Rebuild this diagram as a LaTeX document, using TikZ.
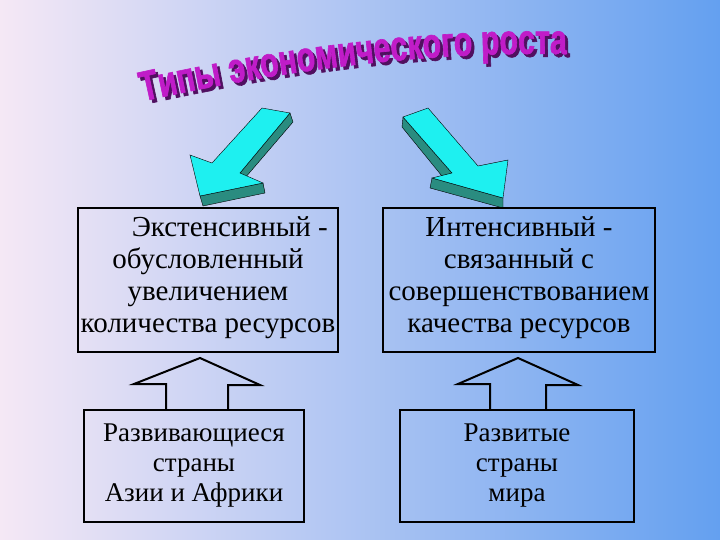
\documentclass[tikz,border=0pt]{standalone}
\usepackage{fontspec}
\setmainfont{Liberation Serif}
\newfontfamily\tfont[FakeStretch=0.72,FakeBold=1.5]{Liberation Sans Bold}
\usetikzlibrary{decorations.text}
\definecolor{cy}{HTML}{1EF0F0}
\definecolor{tl}{HTML}{2A8C80}
\definecolor{mag}{HTML}{C01CC8}
\definecolor{shd}{HTML}{501060}
\tikzset{bx/.style={draw=black,line width=2pt,align=center,inner sep=0pt},
 up/.style={draw=black,line width=2pt},
 cya/.style={fill=cy,draw=black,line width=0.4pt},
 drk/.style={fill=tl,draw=black,line width=0.4pt},
 tt/.style={font=\fontsize{29}{32}\selectfont,align=center},
 bt/.style={font=\fontsize{27}{30}\selectfont,align=center}}
\begin{document}
\begin{tikzpicture}[x=1pt,y=-1pt]
\shade[left color={rgb,255:red,245;green,232;blue,245},right color={rgb,255:red,100;green,160;blue,240}] (0,0) rectangle (720,540);
\useasboundingbox (0,0) rectangle (720,540);
% title
\path[decorate,decoration={text along path,text align=center,text={|\tfont\fontsize{42}{42}\selectfont\color{shd}|Типы экономического роста}}] (121,110) .. controls (300,68) and (460,52) .. (595,58);
\path[decorate,decoration={text along path,text align=center,text={|\tfont\fontsize{42}{42}\selectfont\color{mag}|Типы экономического роста}}] (118,107) .. controls (297,65) and (457,49) .. (592,55);
% left 3D arrow
\draw[drk] (290,113) -- (293,122) -- (245,178) -- (240,173) -- cycle;
\draw[drk] (200,196) -- (263,183) -- (265,193) -- (203,206) -- cycle;
\draw[cya] (262,108) -- (290,113) -- (240,173) -- (263,183) -- (200,196) -- (190,155) -- (212,163) -- cycle;
% right 3D arrow
\draw[drk] (403,117) -- (402,127) -- (446,181) -- (452,173) -- cycle;
\draw[drk] (432,178) -- (503,198) -- (503,208) -- (430,188) -- cycle;
\draw[cya] (403,117) -- (428,108) -- (478,166) -- (508,160) -- (503,198) -- (432,178) -- (452,173) -- cycle;
% boxes
\node[bx,minimum width=260,minimum height=144] (a) at (208,280) {};
\node[tt] at ([yshift=2]a.center) {\hspace*{1.5em}Экстенсивный -\\обусловленный\\увеличением\\количества ресурсов};
\node[bx,minimum width=272,minimum height=144] (b) at (519,280) {};
\node[tt] at ([yshift=2]b.center) {Интенсивный -\\связанный с\\совершенствованием\\качества ресурсов};
\node[bx,minimum width=220,minimum height=112] (c) at (194,466) {};
\node[bt] at (c.center) {Развивающиеся\\страны\\Азии и Африки};
\node[bx,minimum width=234,minimum height=112] (d) at (517,466) {};
\node[bt] at (d.center) {Развитые\\страны\\мира};
% hollow up arrows
\draw[up] ([xshift=-28]c.north) -- ++(0,-25) -- ++(-32,0) -- (200,358) -- (260,385) -- ++(-32,0) -- ++(0,25);
\draw[up] ([xshift=-28,yshift=0]d.north) ++(1,0) -- ++(0,-25) -- ++(-32,0) -- (518,358) -- (578,385) -- ++(-32,0) -- ++(0,25);
\end{tikzpicture}
\end{document}
